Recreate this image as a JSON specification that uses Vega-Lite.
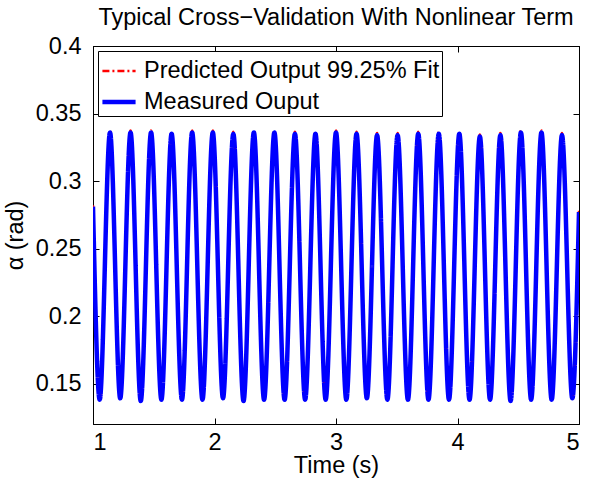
{
  "$schema": "https://vega.github.io/schema/vega-lite/v6.json",
  "width": 486,
  "height": 378,
  "autosize": {"type": "none"},
  "padding": {"left": 93, "top": 46, "right": 10, "bottom": 55},
  "background": "white",
  "title": {"text": "Typical Cross−Validation With Nonlinear Term", "fontSize": 23.5, "fontWeight": "normal", "color": "black", "offset": 5, "anchor": "middle"},
  "datasets": {
    "d": [
      {"series": "Measured Ouput", "t": 1.000, "a": 0.281},
      {"series": "Measured Ouput", "t": 1.055, "a": 0.138},
      {"series": "Measured Ouput", "t": 1.140, "a": 0.336},
      {"series": "Measured Ouput", "t": 1.224, "a": 0.139},
      {"series": "Measured Ouput", "t": 1.309, "a": 0.336},
      {"series": "Measured Ouput", "t": 1.393, "a": 0.137},
      {"series": "Measured Ouput", "t": 1.478, "a": 0.336},
      {"series": "Measured Ouput", "t": 1.563, "a": 0.138},
      {"series": "Measured Ouput", "t": 1.647, "a": 0.335},
      {"series": "Measured Ouput", "t": 1.732, "a": 0.138},
      {"series": "Measured Ouput", "t": 1.816, "a": 0.336},
      {"series": "Measured Ouput", "t": 1.901, "a": 0.138},
      {"series": "Measured Ouput", "t": 1.986, "a": 0.336},
      {"series": "Measured Ouput", "t": 2.070, "a": 0.139},
      {"series": "Measured Ouput", "t": 2.155, "a": 0.335},
      {"series": "Measured Ouput", "t": 2.239, "a": 0.137},
      {"series": "Measured Ouput", "t": 2.324, "a": 0.336},
      {"series": "Measured Ouput", "t": 2.408, "a": 0.138},
      {"series": "Measured Ouput", "t": 2.493, "a": 0.336},
      {"series": "Measured Ouput", "t": 2.577, "a": 0.138},
      {"series": "Measured Ouput", "t": 2.662, "a": 0.335},
      {"series": "Measured Ouput", "t": 2.746, "a": 0.138},
      {"series": "Measured Ouput", "t": 2.831, "a": 0.335},
      {"series": "Measured Ouput", "t": 2.915, "a": 0.138},
      {"series": "Measured Ouput", "t": 3.000, "a": 0.336},
      {"series": "Measured Ouput", "t": 3.085, "a": 0.138},
      {"series": "Measured Ouput", "t": 3.169, "a": 0.335},
      {"series": "Measured Ouput", "t": 3.254, "a": 0.139},
      {"series": "Measured Ouput", "t": 3.338, "a": 0.334},
      {"series": "Measured Ouput", "t": 3.423, "a": 0.138},
      {"series": "Measured Ouput", "t": 3.507, "a": 0.334},
      {"series": "Measured Ouput", "t": 3.592, "a": 0.138},
      {"series": "Measured Ouput", "t": 3.677, "a": 0.335},
      {"series": "Measured Ouput", "t": 3.761, "a": 0.138},
      {"series": "Measured Ouput", "t": 3.846, "a": 0.335},
      {"series": "Measured Ouput", "t": 3.930, "a": 0.138},
      {"series": "Measured Ouput", "t": 4.015, "a": 0.335},
      {"series": "Measured Ouput", "t": 4.099, "a": 0.138},
      {"series": "Measured Ouput", "t": 4.184, "a": 0.333},
      {"series": "Measured Ouput", "t": 4.268, "a": 0.138},
      {"series": "Measured Ouput", "t": 4.353, "a": 0.334},
      {"series": "Measured Ouput", "t": 4.437, "a": 0.137},
      {"series": "Measured Ouput", "t": 4.522, "a": 0.336},
      {"series": "Measured Ouput", "t": 4.606, "a": 0.138},
      {"series": "Measured Ouput", "t": 4.691, "a": 0.336},
      {"series": "Measured Ouput", "t": 4.775, "a": 0.138},
      {"series": "Measured Ouput", "t": 4.860, "a": 0.334},
      {"series": "Measured Ouput", "t": 4.945, "a": 0.139},
      {"series": "Measured Ouput", "t": 5.000, "a": 0.277},
      {"series": "Predicted Output 99.25% Fit", "t": 1.000, "a": 0.282},
      {"series": "Predicted Output 99.25% Fit", "t": 1.055, "a": 0.138},
      {"series": "Predicted Output 99.25% Fit", "t": 1.140, "a": 0.3375},
      {"series": "Predicted Output 99.25% Fit", "t": 1.224, "a": 0.139},
      {"series": "Predicted Output 99.25% Fit", "t": 1.309, "a": 0.3375},
      {"series": "Predicted Output 99.25% Fit", "t": 1.393, "a": 0.138},
      {"series": "Predicted Output 99.25% Fit", "t": 1.478, "a": 0.3375},
      {"series": "Predicted Output 99.25% Fit", "t": 1.563, "a": 0.138},
      {"series": "Predicted Output 99.25% Fit", "t": 1.647, "a": 0.3365},
      {"series": "Predicted Output 99.25% Fit", "t": 1.732, "a": 0.138},
      {"series": "Predicted Output 99.25% Fit", "t": 1.816, "a": 0.3375},
      {"series": "Predicted Output 99.25% Fit", "t": 1.901, "a": 0.138},
      {"series": "Predicted Output 99.25% Fit", "t": 1.986, "a": 0.3375},
      {"series": "Predicted Output 99.25% Fit", "t": 2.070, "a": 0.139},
      {"series": "Predicted Output 99.25% Fit", "t": 2.155, "a": 0.3365},
      {"series": "Predicted Output 99.25% Fit", "t": 2.239, "a": 0.138},
      {"series": "Predicted Output 99.25% Fit", "t": 2.324, "a": 0.3375},
      {"series": "Predicted Output 99.25% Fit", "t": 2.408, "a": 0.138},
      {"series": "Predicted Output 99.25% Fit", "t": 2.493, "a": 0.3375},
      {"series": "Predicted Output 99.25% Fit", "t": 2.577, "a": 0.138},
      {"series": "Predicted Output 99.25% Fit", "t": 2.662, "a": 0.3365},
      {"series": "Predicted Output 99.25% Fit", "t": 2.746, "a": 0.138},
      {"series": "Predicted Output 99.25% Fit", "t": 2.831, "a": 0.3365},
      {"series": "Predicted Output 99.25% Fit", "t": 2.915, "a": 0.138},
      {"series": "Predicted Output 99.25% Fit", "t": 3.000, "a": 0.3375},
      {"series": "Predicted Output 99.25% Fit", "t": 3.085, "a": 0.138},
      {"series": "Predicted Output 99.25% Fit", "t": 3.169, "a": 0.3365},
      {"series": "Predicted Output 99.25% Fit", "t": 3.254, "a": 0.139},
      {"series": "Predicted Output 99.25% Fit", "t": 3.338, "a": 0.3355},
      {"series": "Predicted Output 99.25% Fit", "t": 3.423, "a": 0.138},
      {"series": "Predicted Output 99.25% Fit", "t": 3.507, "a": 0.3355},
      {"series": "Predicted Output 99.25% Fit", "t": 3.592, "a": 0.138},
      {"series": "Predicted Output 99.25% Fit", "t": 3.677, "a": 0.3365},
      {"series": "Predicted Output 99.25% Fit", "t": 3.761, "a": 0.138},
      {"series": "Predicted Output 99.25% Fit", "t": 3.846, "a": 0.3365},
      {"series": "Predicted Output 99.25% Fit", "t": 3.930, "a": 0.138},
      {"series": "Predicted Output 99.25% Fit", "t": 4.015, "a": 0.3365},
      {"series": "Predicted Output 99.25% Fit", "t": 4.099, "a": 0.138},
      {"series": "Predicted Output 99.25% Fit", "t": 4.184, "a": 0.3345},
      {"series": "Predicted Output 99.25% Fit", "t": 4.268, "a": 0.138},
      {"series": "Predicted Output 99.25% Fit", "t": 4.353, "a": 0.3355},
      {"series": "Predicted Output 99.25% Fit", "t": 4.437, "a": 0.138},
      {"series": "Predicted Output 99.25% Fit", "t": 4.522, "a": 0.3375},
      {"series": "Predicted Output 99.25% Fit", "t": 4.606, "a": 0.138},
      {"series": "Predicted Output 99.25% Fit", "t": 4.691, "a": 0.3375},
      {"series": "Predicted Output 99.25% Fit", "t": 4.775, "a": 0.138},
      {"series": "Predicted Output 99.25% Fit", "t": 4.860, "a": 0.3355},
      {"series": "Predicted Output 99.25% Fit", "t": 4.945, "a": 0.139},
      {"series": "Predicted Output 99.25% Fit", "t": 5.000, "a": 0.278}
    ]
  },
  "data": {"name": "d"},
  "layer": [
    {
      "transform": [{"filter": "datum.series === 'Predicted Output 99.25% Fit'"}],
      "mark": {"type": "line", "interpolate": "monotone", "clip": true},
      "encoding": {
        "x": {"field": "t", "type": "quantitative", "scale": {"domain": [1, 5], "nice": false, "zero": false}, "axis": {"values": [1, 2, 3, 4, 5], "format": "d", "title": "Time (s)", "labelPadding": 12, "titlePadding": 0}},
        "y": {"field": "a", "type": "quantitative", "scale": {"domain": [0.12, 0.4], "nice": false, "zero": false}, "axis": {"values": [0.15, 0.2, 0.25, 0.3, 0.35, 0.4], "format": ".2~f", "title": "α (rad)", "labelPadding": 18, "titlePadding": 8}},
        "color": {"field": "series", "type": "nominal", "scale": {"domain": ["Predicted Output 99.25% Fit", "Measured Ouput"], "range": ["#ff0000", "#0000ff"]}, "legend": {"title": null}},
        "strokeDash": {"field": "series", "type": "nominal", "scale": {"domain": ["Predicted Output 99.25% Fit", "Measured Ouput"], "range": [[7, 3, 2, 3], [1, 0]]}, "legend": {"title": null}},
        "strokeWidth": {"field": "series", "type": "nominal", "scale": {"domain": ["Predicted Output 99.25% Fit", "Measured Ouput"], "range": [2.5, 4.5]}, "legend": {"title": null}}
      }
    },
    {
      "transform": [{"filter": "datum.series === 'Measured Ouput'"}],
      "mark": {"type": "line", "interpolate": "monotone", "clip": true},
      "encoding": {
        "x": {"field": "t", "type": "quantitative", "axis": null},
        "y": {"field": "a", "type": "quantitative", "axis": null},
        "color": {"field": "series", "type": "nominal"},
        "strokeDash": {"field": "series", "type": "nominal"},
        "strokeWidth": {"field": "series", "type": "nominal"}
      }
    },
    {
      "mark": {"type": "point", "opacity": 0},
      "encoding": {
        "x": {"field": "t", "type": "quantitative", "axis": {"orient": "top", "values": [1, 2, 3, 4, 5], "labels": false, "title": null}},
        "y": {"field": "a", "type": "quantitative", "axis": {"orient": "right", "values": [0.15, 0.2, 0.25, 0.3, 0.35, 0.4], "labels": false, "title": null}}
      }
    }
  ],
  "resolve": {"axis": {"x": "independent", "y": "independent"}},
  "config": {
    "font": "Liberation Sans",
    "view": {"stroke": "black", "strokeWidth": 1},
    "axis": {"grid": false, "domainColor": "black", "tickColor": "black", "labelColor": "black", "titleColor": "black", "labelFontSize": 23.5, "titleFontSize": 23.5, "titleFontWeight": "normal", "tickSize": -6, "tickWidth": 1, "domainWidth": 1},
    "legend": {"orient": "none", "legendX": 5, "legendY": 5, "fillColor": "white", "strokeColor": "black", "padding": 2, "cornerRadius": 0, "labelFontSize": 23.5, "labelColor": "black", "labelLimit": 0, "symbolType": "stroke", "symbolSize": 1100, "labelOffset": 6, "rowPadding": -5, "symbolOpacity": 1}
  }
}
